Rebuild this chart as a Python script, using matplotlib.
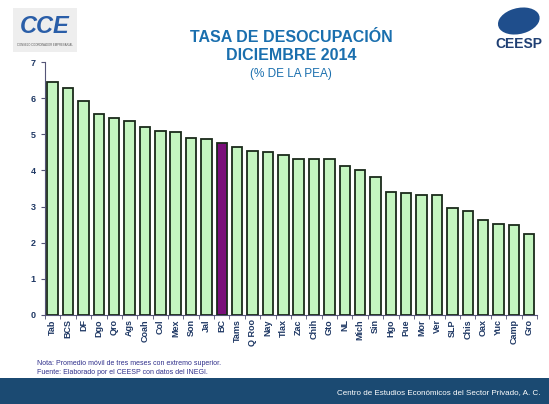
import matplotlib.pyplot as plt
import numpy as np
from matplotlib.patches import Rectangle, Ellipse

plt.rcParams['font.family'] = ['Liberation Sans', 'DejaVu Sans']

# datos
estados = ['Tab', 'BCS', 'DF', 'Dgo', 'Qro', 'Ags', 'Coah', 'Col', 'Mex', 'Son', 'Jal',
           'BC', 'Tams', 'Q Roo', 'Nay', 'Tlax', 'Zac', 'Chih', 'Gto', 'NL', 'Mich',
           'Sin', 'Hgo', 'Pue', 'Mor', 'Ver', 'SLP', 'Chis', 'Oax', 'Yuc', 'Camp', 'Gro']
tasa = [6.46, 6.27, 5.91, 5.57, 5.44, 5.36, 5.21, 5.10, 5.06, 4.91, 4.86,
        4.77, 4.66, 4.55, 4.50, 4.44, 4.33, 4.31, 4.31, 4.11, 4.02,
        3.83, 3.40, 3.37, 3.31, 3.31, 2.96, 2.89, 2.62, 2.52, 2.49, 2.24]
resaltado = 'BC'

navy = '#1f3864'
green = '#c4f5c0'
purple = '#7a0f7a'

fig = plt.figure(figsize=(5.49, 4.04), dpi=100)
ax = fig.add_axes([0.082, 0.2203, 0.896, 0.6262])

x = np.arange(len(estados))
colores = [purple if e == resaltado else green for e in estados]
ax.bar(x, tasa, width=0.68, color=colores, edgecolor='#1a2a1a', linewidth=1.3, zorder=3)

ax.set_xlim(-0.5, len(estados) - 0.5)
ax.set_ylim(0, 7)
ax.set_yticks(range(0, 8))
ax.set_xticks(x)
ax.set_xticklabels(estados, rotation=90, fontsize=6.5, fontweight='bold', color=navy)
ax.set_xticks(np.arange(-0.5, len(estados), 1), minor=True)
ax.tick_params(axis='x', which='major', length=0, pad=3)
ax.tick_params(axis='x', which='minor', length=3, color='#555577')
ax.tick_params(axis='y', labelsize=6.5, length=3, color='#555577', labelcolor=navy)
for t in ax.get_yticklabels():
    t.set_fontweight('bold')

for s in ['top', 'right']:
    ax.spines[s].set_visible(False)
ax.spines['left'].set_color('#555577')
ax.spines['bottom'].set_color('#555577')

# titulos
fig.text(0.53, 0.908, 'TASA DE DESOCUPACIÓN', ha='center', va='center',
         fontsize=11.5, fontweight='bold', color='#1a6fae')
fig.text(0.53, 0.862, 'DICIEMBRE 2014', ha='center', va='center',
         fontsize=11.5, fontweight='bold', color='#1a6fae')
fig.text(0.53, 0.818, '(% DE LA PEA)', ha='center', va='center',
         fontsize=8.5, color='#1a6fae')

# notas
fig.text(0.067, 0.101, 'Nota: Promedio móvil de tres meses con extremo superior.',
         fontsize=5, color='#2e2e8a', va='center')
fig.text(0.067, 0.078, 'Fuente: Elaborado por el CEESP con datos del INEGI.',
         fontsize=5, color='#2e2e8a', va='center')

# barra inferior
fig.patches.append(Rectangle((0, 0), 1, 0.064, transform=fig.transFigure,
                             facecolor='#1b4a72', edgecolor='none', zorder=0))
fig.text(0.985, 0.028, 'Centro de Estudios Económicos del Sector Privado, A. C.',
         ha='right', va='center', fontsize=5.8, color='white')

# logos (aproximados)
fig.patches.append(Rectangle((0.024, 0.871), 0.116, 0.11, transform=fig.transFigure,
                             facecolor='#eeeeee', edgecolor='none'))
fig.text(0.082, 0.935, 'CCE', ha='center', va='center', fontsize=17,
         fontweight='bold', fontstyle='italic', color='#2a5ea8')
fig.text(0.082, 0.888, 'CONSEJO COORDINADOR EMPRESARIAL', ha='center', va='center',
         fontsize=2, color='#555555')
fig.patches.append(Ellipse((0.945, 0.948), 0.08, 0.062, angle=30, transform=fig.transFigure,
                           facecolor='#1f4e8c', edgecolor='none'))
fig.text(0.945, 0.89, 'CEESP', ha='center', va='center', fontsize=10,
         fontweight='bold', color='#1f3f73')

plt.savefig('out.png', dpi=100)
